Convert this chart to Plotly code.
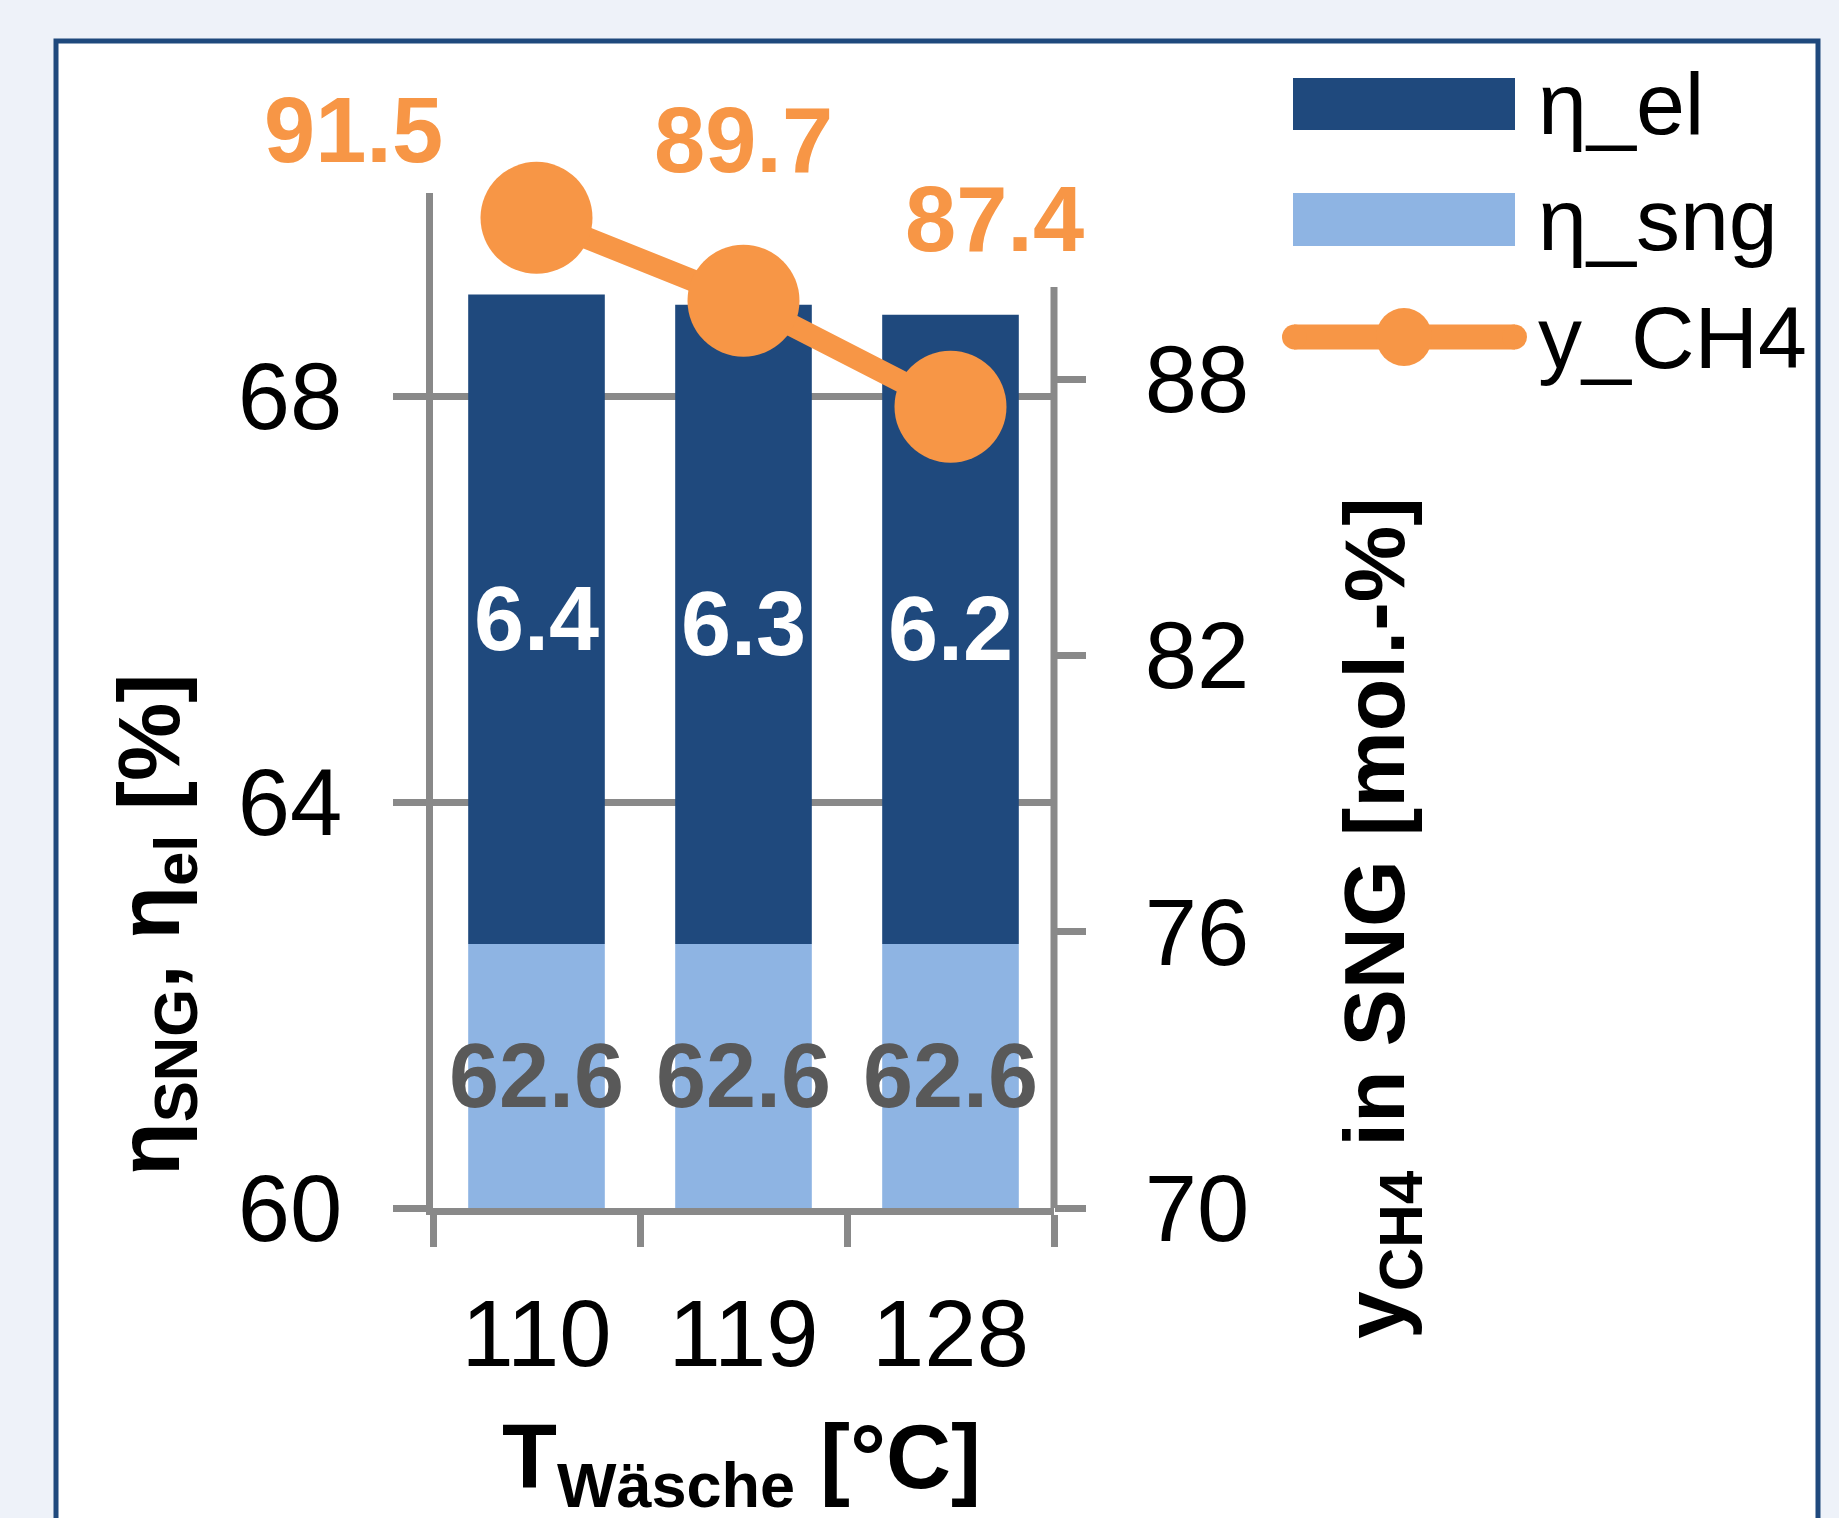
import plotly.graph_objects as go

# ---------------- data ----------------
categories = ["110", "119", "128"]
eta_sng = [62.6, 62.6, 62.6]
eta_el = [6.4, 6.3, 6.2]
y_ch4 = [91.5, 89.7, 87.4]
left_ticks = [60, 64, 68]
right_ticks = [70, 76, 82, 88]
series_names = ["η_el", "η_sng", "y_CH4"]

# ---------------- styling ----------------
W, H = 1839, 1518
PL, PR, PT, PB = 433, 1054, 193, 1208   # plot area in pixels
PW, PH = PR - PL, PB - PT

FONT = "Liberation Sans, Arial, sans-serif"
DARK = "#1F497D"
LIGHT = "#8EB4E3"
ORANGE = "#F79646"
GRID = "#898989"
LABEL_GREY = "#595959"
FRAME = "#1F497D"
BG = "#EEF2F9"

LEFT_RANGE = [60, 70]
RIGHT_RANGE = [70, 92.04]
RIGHT_LINE_TOP = 90

label_dx = [-183, 0, 44]
label_dy = [88, 161, 188]


def px_x(px):
    return (px - PL) / PW


def px_y(py):
    return (PB - py) / PH


fig = go.Figure()

# light segment (starts at axis minimum)
fig.add_trace(go.Bar(
    x=categories,
    y=[v - LEFT_RANGE[0] for v in eta_sng],
    base=[LEFT_RANGE[0]] * len(eta_sng),
    name=series_names[1],
    marker=dict(color=LIGHT, line=dict(width=0)),
    text=[f"{v:.1f}" for v in eta_sng],
    textposition="inside",
    insidetextanchor="middle",
    textangle=0,
    constraintext="none",
    textfont=dict(family=FONT, size=90, color=LABEL_GREY, weight="bold"),
    showlegend=False,
))
# dark segment stacked on top
fig.add_trace(go.Bar(
    x=categories,
    y=eta_el,
    base=eta_sng,
    name=series_names[0],
    marker=dict(color=DARK, line=dict(width=0)),
    text=[f"{v:.1f}" for v in eta_el],
    textposition="inside",
    insidetextanchor="middle",
    textangle=0,
    constraintext="none",
    textfont=dict(family=FONT, size=90, color="white", weight="bold"),
    showlegend=False,
))
# methane line on secondary axis
fig.add_trace(go.Scatter(
    x=categories,
    y=y_ch4,
    yaxis="y2",
    name=series_names[2],
    mode="lines+markers",
    line=dict(color=ORANGE, width=22),
    marker=dict(color=ORANGE, size=112),
    cliponaxis=False,
    showlegend=False,
))

annotations = []
for i, v in enumerate(y_ch4):
    annotations.append(dict(
        x=i, y=v, xref="x", yref="y2", text=f"{v:.1f}", showarrow=False,
        xanchor="center", yanchor="middle",
        xshift=label_dx[i], yshift=label_dy[i],
        font=dict(family=FONT, size=92, color=ORANGE, weight="bold"),
    ))

# axis titles
annotations.append(dict(
    x=px_x(155), y=px_y(925), xref="paper", yref="paper",
    xanchor="center", yanchor="middle",
    text="η<sub>SNG</sub>, η<sub>el</sub> [%]", textangle=-90, showarrow=False,
    font=dict(family=FONT, size=88, color="black", weight="bold"),
))
annotations.append(dict(
    x=px_x(1380), y=px_y(918), xref="paper", yref="paper",
    xanchor="center", yanchor="middle",
    text="y<sub>CH4</sub> in SNG [mol.-%]", textangle=-90, showarrow=False,
    font=dict(family=FONT, size=86, color="black", weight="bold"),
))
annotations.append(dict(
    x=px_x(741), y=px_y(1405), xref="paper", yref="paper",
    xanchor="center", yanchor="top",
    text="T<sub>Wäsche</sub> [°C]", showarrow=False,
    font=dict(family=FONT, size=90, color="black", weight="bold"),
))

# custom legend text
leg_centers = [104, 219, 337]
for name, cy in zip(series_names, leg_centers):
    annotations.append(dict(
        x=px_x(1536), y=px_y(cy), xref="paper", yref="paper",
        xanchor="left", yanchor="middle", text=name, showarrow=False,
        font=dict(family=FONT, size=88, color="black"),
    ))

shapes = [
    # white frame with blue border
    dict(type="rect", xref="paper", yref="paper", layer="below",
         x0=px_x(56), x1=px_x(1818), y0=px_y(1560), y1=px_y(41),
         fillcolor="white", line=dict(color=FRAME, width=5)),
    # right axis line (ends at 90)
    dict(type="line", xref="paper", yref="y2", x0=1, x1=1,
         y0=RIGHT_RANGE[0], y1=RIGHT_LINE_TOP,
         line=dict(color=GRID, width=7)),
    # legend swatches
    dict(type="rect", xref="paper", yref="paper",
         x0=px_x(1293), x1=px_x(1515), y0=px_y(130), y1=px_y(78),
         fillcolor=DARK, line=dict(width=0)),
    dict(type="rect", xref="paper", yref="paper",
         x0=px_x(1293), x1=px_x(1515), y0=px_y(246), y1=px_y(193),
         fillcolor=LIGHT, line=dict(width=0)),
    dict(type="line", xref="paper", yref="paper",
         x0=px_x(1294), x1=px_x(1515), y0=px_y(337), y1=px_y(337),
         line=dict(color=ORANGE, width=25)),
    dict(type="circle", xref="paper", yref="paper",
         x0=px_x(1282), x1=px_x(1307), y0=px_y(349.5), y1=px_y(324.5),
         fillcolor=ORANGE, line=dict(width=0)),
    dict(type="circle", xref="paper", yref="paper",
         x0=px_x(1502), x1=px_x(1527), y0=px_y(349.5), y1=px_y(324.5),
         fillcolor=ORANGE, line=dict(width=0)),
    dict(type="circle", xref="paper", yref="paper",
         x0=px_x(1376), x1=px_x(1432), y0=px_y(366), y1=px_y(308),
         fillcolor=ORANGE, line=dict(width=0)),
]

tickfont = dict(family=FONT, size=94, color="black")

fig.update_layout(
    width=W, height=H,
    margin=dict(l=PL, r=W - PR, t=PT, b=H - PB, autoexpand=False),
    paper_bgcolor=BG,
    plot_bgcolor="rgba(0,0,0,0)",
    barmode="overlay",
    bargap=0.34,
    showlegend=False,
    xaxis=dict(
        type="category", range=[-0.5, 2.5], tickson="boundaries",
        ticks="outside", ticklen=32, tickwidth=7, tickcolor=GRID,
        showline=True, linewidth=7, linecolor=GRID,
        showgrid=False, zeroline=False, automargin=False,
        tickfont=tickfont, ticklabelstandoff=38,
    ),
    yaxis=dict(
        range=LEFT_RANGE, tickvals=left_ticks,
        ticks="outside", ticklen=33, tickwidth=7, tickcolor=GRID,
        showline=True, linewidth=7, linecolor=GRID,
        showgrid=True, gridwidth=7, gridcolor=GRID,
        zeroline=False, automargin=False,
        tickfont=tickfont, ticklabelstandoff=32,
    ),
    yaxis2=dict(
        range=RIGHT_RANGE, tickvals=right_ticks, overlaying="y", side="right",
        ticks="outside", ticklen=31, tickwidth=7, tickcolor=GRID,
        showline=False, showgrid=False, zeroline=False, automargin=False,
        tickfont=tickfont, ticklabelstandoff=40,
    ),
    annotations=annotations,
    shapes=shapes,
)

fig.write_html(
    "out.html",
    config={"displayModeBar": False},
    post_script="document.body.style.margin='0';",
)
